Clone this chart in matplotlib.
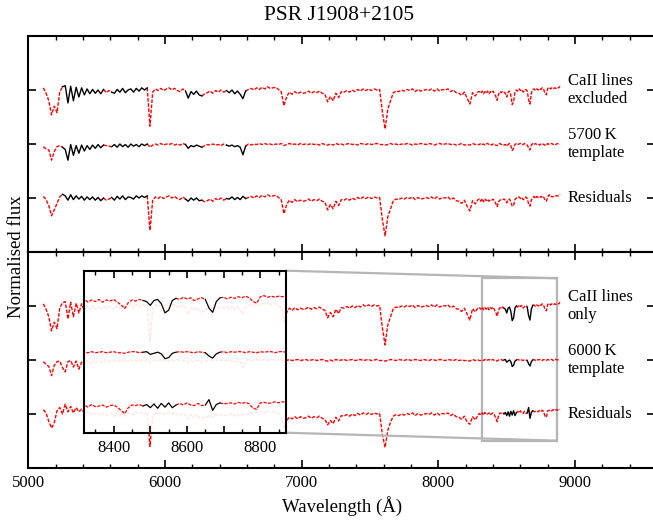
import numpy as np
import matplotlib
matplotlib.use("Agg")
import matplotlib.pyplot as plt
from matplotlib.ticker import MultipleLocator, FuncFormatter, NullLocator
from mpl_toolkits.axes_grid1.inset_locator import mark_inset

plt.rcParams['font.family'] = ['Liberation Serif', 'DejaVu Serif']

# wavelength grid (Angstrom): coarse 5110-8290, fine 8300-8890
wl = np.concatenate([np.arange(5110, 8291, 20), np.arange(8300, 8891, 10)]).astype(float)

# percent deviation from the continuum (flux = 1 + dev/100)
obs_dev = [
    4, -6, -20, -46, -30, -42, -4, 6, 8, -24,
    7, -20, 5, -13, 4, -9, 2, -7, 1, -6,
    0, -7, 1, -5, -1, -4, -6, 1, -4, 3,
    -5, 0, 2, -4, 3, -2, 4, 0, 4, -67,
    -4, 2, -1, 3, -1, 2, 4, 0, 3, -1,
    -3, 2, -2, -15, -3, -8, -2, -9, -11, -7,
    -5, -2, -6, -1, -4, 0, -4, -1, -5, 0,
    -7, -2, -8, -16, -2, 1, 3, 0, 4, 1,
    5, 2, 6, 3, 4, 5, 1, -3, -29, -12,
    -4, -8, -3, -7, -4, -6, -5, -2, -6, -3,
    -5, -2, -6, -8, -22, -12, -20, -6, -14, -3,
    -4, -1, -4, 0, -3, 1, -2, 2, -1, 2,
    -1, 2, 0, 1, -40, -72, -35, -20, -5, -2,
    -3, 0, -2, 1, -1, 2, -3, 1, -2, -1,
    1, -1, 2, -2, 2, -2, 1, 0, 2, -3,
    0, -5, -6, -10, -4, -15, -26, -5, -11, -3,
    -3, -6, -2, -7, -3, -6, -2, -7, -3, -5,
    -2, -7, -12, -19, -8, -3, -5, -2, -4, -6,
    -13, -4, -2, -10, -27, -22, -4, 0, -2, 2,
    -1, 1, -4, -1, 1, -2, -18, -26, -6, 1,
    2, -1, 2, 0, 3, 1, 4, 1, -6, -9,
    3, 5, 2, 4, 2, 4, 3, 5, 4, 7,
]

t5700_dev = [
    -5, -9, -11, -30, -14, -5, -3, -6, -10, -30,
    -1, -21, -3, -17, -2, -13, -3, -10, -2, -8,
    -1, -7, -2, -3, -4, -5, -1, -6, 0, -5,
    -1, -6, 0, -4, -1, -5, 0, -3, 0, -6,
    -2, 0, -2, 1, -2, 0, -1, 1, -2, 0,
    -2, 1, -1, -8, -3, -5, -2, -4, -6, -3,
    -1, -2, 0, -2, -1, -3, 0, -2, -4, -2,
    -5, -3, -6, -20, -4, 0, -2, 0, -1, 1,
    -1, 1, -1, 0, -2, 0, -1, 1, -3, -1,
    1, -1, 0, -2, 1, -1, 0, -1, 1, -1,
    0, -2, 1, -1, -2, 0, -2, 1, -1, 0,
    -2, 0, 1, -1, 0, -2, 1, 0, -1, 1,
    -1, 0, 1, -1, -1, -2, -1, 1, -1, 0,
    -2, 0, -1, 1, 0, -2, 0, -1, 1, 0,
    -1, 1, 0, -2, 0, 1, -1, 0, 1, -1,
    0, -2, -1, 1, -2, -1, -2, 1, -1, -1,
    -1, 1, -1, 0, -2, 0, 1, -1, 0, -2,
    0, -2, -2, -3, -1, 1, -1, 0, -2, -1,
    -4, -1, 1, -3, -12, -8, -1, 1, -1, 0,
    1, -1, -1, 1, -1, -2, -7, -11, -2, 1,
    -1, 1, -1, 0, -2, 0, 1, -1, -2, -3,
    1, -1, 0, 1, -1, 0, -1, 1, 0, -1,
]

res5700_dev = [
    3, -3, -14, -33, -22, -10, 2, 7, 4, -4,
    6, -3, 4, -2, 3, -4, 2, -3, 2, -4,
    1, -5, 0, -4, -2, 1, -4, 3, -2, 4,
    -3, 2, 1, -2, 4, 0, 4, 1, 4, -60,
    -4, 2, -1, 3, -1, 2, 4, 0, 3, -1,
    -3, 2, -2, -6, 0, -4, 0, -5, -4, -7,
    -5, -2, -6, -1, -4, 0, -4, -1, -2, 2,
    -3, 1, -3, 3, -1, 1, 3, 0, 4, 1,
    5, 2, 6, 3, 4, 5, 1, -3, -29, -12,
    -4, -8, -3, -7, -4, -6, -5, -2, -6, -3,
    -5, -2, -6, -8, -22, -12, -20, -6, -14, -3,
    -4, -1, -4, 0, -3, 1, -2, 2, -1, 2,
    -1, 2, 0, 1, -40, -70, -35, -20, -5, -2,
    -3, 0, -2, 1, -1, 2, -3, 1, -2, -1,
    1, -1, 2, -2, 2, -2, 1, 0, 2, -3,
    0, -5, -6, -10, -4, -15, -24, -5, -11, -3,
    -2, -6, -1, -7, -2, -5, -2, -6, -3, -4,
    -2, -6, -10, -16, -7, -4, -3, -3, -2, -4,
    -9, -3, -2, -7, -15, -14, -3, 0, 0, 2,
    -1, 1, -3, -2, 2, -1, -11, -15, -4, 1,
    3, -1, 3, 1, 3, 1, 4, 2, -4, -6,
    2, 6, 2, 3, 2, 4, 4, 4, 4, 7,
]

t6000_dev = [
    -3, -8, -12, -29, -10, -3, -2, -14, -22, -3,
    -1, -13, -2, -17, -4, -9, -1, -7, -1, -6,
    0, -5, -1, -3, -1, -4, 0, -3, -1, -3,
    0, -3, 1, -2, -1, -3, 0, -2, 1, -5,
    -2, 0, -1, 1, -1, 0, -2, 0, -1, 1,
    -1, 0, -2, -5, -2, -3, -1, -2, -4, -1,
    -2, 0, -1, 1, -2, 0, -1, 0, -3, -1,
    -3, -2, -4, -14, -2, 1, -1, 0, 1, -1,
    0, 1, -1, 0, 1, -1, 0, 1, -2, -1,
    1, -1, 0, 1, -1, 0, 1, -1, 0, 1,
    -1, 0, 1, -1, -2, 0, -2, 1, -1, 0,
    1, -1, 0, 1, -1, 0, 1, -1, 0, 1,
    -1, 0, 1, -1, -1, -2, -1, 1, 0, -1,
    1, 0, -1, 1, 0, -1, 1, 0, -1, 1,
    0, -1, 1, 0, -1, 1, 0, -1, 1, 0,
    -1, 1, -1, 0, -1, -1, -2, 1, -1, 0,
    -1, -1, 0, -1, 1, -1, 0, 1, -1, 0,
    1, -1, -1, -2, 0, 1, 1, -1, 0, 1,
    -4, -2, 0, -3, -12, -10, -2, 0, 1, 0,
    1, 0, -1, 1, 0, -1, -7, -11, -3, 0,
    1, -1, 1, 0, 1, 1, -1, 1, 0, -1,
    1, 0, 1, 1, -1, 1, 1, 0, 1, 1,
]

res6000_dev = [
    8, 2, -14, -26, -16, 6, 12, 0, 18, 4,
    14, 2, 12, 4, 9, 2, 4, -2, 3, -1,
    1, -3, 2, -3, 0, 2, -5, 4, -3, 5,
    -4, 3, 1, -2, 4, 0, 4, 1, 4, -60,
    -4, 2, -1, 3, -1, 2, 4, 0, 3, -1,
    -3, 2, -2, -9, -1, -5, -1, -7, -6, -7,
    -5, -2, -6, -1, -3, -1, -3, -2, -2, 1,
    -4, 0, -4, 0, -1, 1, 3, 0, 4, 1,
    5, 2, 6, 3, 4, 5, 1, -3, -25, -12,
    -6, -9, -5, -9, -5, -8, -7, -4, -8, -5,
    -7, -4, -8, -10, -20, -12, -18, -6, -13, -3,
    -4, -1, -4, 0, -3, 1, -2, 2, -1, 2,
    -1, 2, 0, 1, -38, -62, -30, -15, -4, -1,
    -3, 0, -2, 1, -1, 2, -3, 1, -2, -1,
    1, -1, 2, -2, 2, -2, 1, 0, 2, -3,
    0, -5, -6, -10, -4, -15, -19, -5, -11, -2,
    1, -2, 2, -2, 3, -1, 0, 2, -2, 1,
    2, -2, -8, -14, -3, 2, 1, 3, 0, 3,
    -3, 4, -4, 5, -2, 6, -3, 2, 5, 2,
    6, 2, 1, 5, 1, 2, 12, -8, 3, 6,
    4, 5, 6, 4, 7, 5, 7, 4, -4, -6,
    6, 7, 5, 6, 8, 6, 8, 7, 9, 8,
]

offsets = [2, 1, 0]
top_labels = ["CaII lines\nexcluded", "5700\u2009K\ntemplate", "Residuals"]
bot_labels = ["CaII lines\nonly", "6000\u2009K\ntemplate", "Residuals"]
top_fit_ranges = [(5250, 5550), (5610, 5870), (6150, 6270), (6450, 6590)]
bot_fit_ranges = [(8480, 8570), (8650, 8690)]

RED_DASH = (0, (2.6, 1.1))


def draw(ax, dev, offset, ranges, lw=1.0):
    y = np.asarray(dev, float) / 100.0 + offset
    interior = np.zeros(len(wl), bool)
    inside = np.zeros(len(wl), bool)
    for a, b in ranges:
        interior |= (wl > a) & (wl < b)
        inside |= (wl >= a) & (wl <= b)
    ax.plot(wl, np.where(~interior, y, np.nan), color='#ff0000', lw=lw, ls=RED_DASH)
    ax.plot(wl, np.where(inside, y, np.nan), color='black', lw=lw)


W, H = 653, 522
fig = plt.figure(figsize=(W / 100, H / 100), dpi=100)
L = 28.3 / W
R = 655 / W
ax_top = fig.add_axes([L, 1 - 252 / H, R - L, 216 / H])
ax_bot = fig.add_axes([L, 1 - 468 / H, R - L, 216 / H])

top_series = [obs_dev, t5700_dev, res5700_dev]
bot_series = [obs_dev, t6000_dev, res6000_dev]

for ax, series, ranges, labels in ((ax_top, top_series, top_fit_ranges, top_labels),
                                   (ax_bot, bot_series, bot_fit_ranges, bot_labels)):
    for dev, off in zip(series, offsets):
        draw(ax, dev, off, ranges)
    for off, lab in zip(offsets, labels):
        ax.text(8945, off, lab, ha='left', va='center', fontsize=12, linespacing=1.1)
    ax.set_xlim(5000, 9584.6)
    ax.set_ylim(-1, 3)
    ax.xaxis.set_major_locator(MultipleLocator(1000))
    ax.xaxis.set_minor_locator(MultipleLocator(200))
    ax.set_yticks(offsets)
    ax.yaxis.set_minor_locator(NullLocator())
    ax.tick_params(which='both', direction='in', top=True, bottom=True,
                   left=True, right=True, labelleft=False)
    ax.tick_params(which='major', length=5.8, width=1.2)
    ax.tick_params(which='minor', length=3.2, width=1.0)
    for s in ax.spines.values():
        s.set_linewidth(1.5)
    ax.spines['right'].set_visible(False)

ax_top.tick_params(labelbottom=False)
ax_bot.tick_params(axis='x', labelsize=12, pad=5)
ax_bot.set_xlabel('Wavelength (\u00c5)', fontsize=13.5, labelpad=4)

fig.text(0.52, 1 - 15 / H, 'PSR J1908+2105', ha='center', va='center', fontsize=15.5)
fig.text(17 / W, 1 - 257 / H, 'Normalised flux', rotation=90, ha='center', va='center',
         fontsize=13.5)

# inset
axins = fig.add_axes([84.3 / W, 1 - 432.7 / H, (286 - 84.3) / W, 162 / H])
axins.set_facecolor((1, 1, 1, 0.9))
for dev, off in zip(bot_series, offsets):
    draw(axins, dev, off, bot_fit_ranges, lw=0.9)
axins.set_xlim(8320, 8870)
axins.set_ylim(-0.494, 2.513)
axins.xaxis.set_major_locator(MultipleLocator(100))
axins.xaxis.set_minor_locator(MultipleLocator(50))
axins.xaxis.set_major_formatter(
    FuncFormatter(lambda v, p: f'{int(round(v))}' if int(round(v)) % 200 == 0 else ''))
axins.set_yticks([])
axins.tick_params(which='both', direction='in', top=True, bottom=True, left=False,
                  right=False, labelsize=12, pad=5)
axins.tick_params(which='major', length=5, width=1.2)
axins.tick_params(which='minor', length=3, width=1.0)
for s in axins.spines.values():
    s.set_linewidth(1.5)

mark_inset(ax_bot, axins, loc1=1, loc2=4, fc='none', ec='#b5b5b5', lw=1.6)

fig.savefig('out.png', dpi=100)
